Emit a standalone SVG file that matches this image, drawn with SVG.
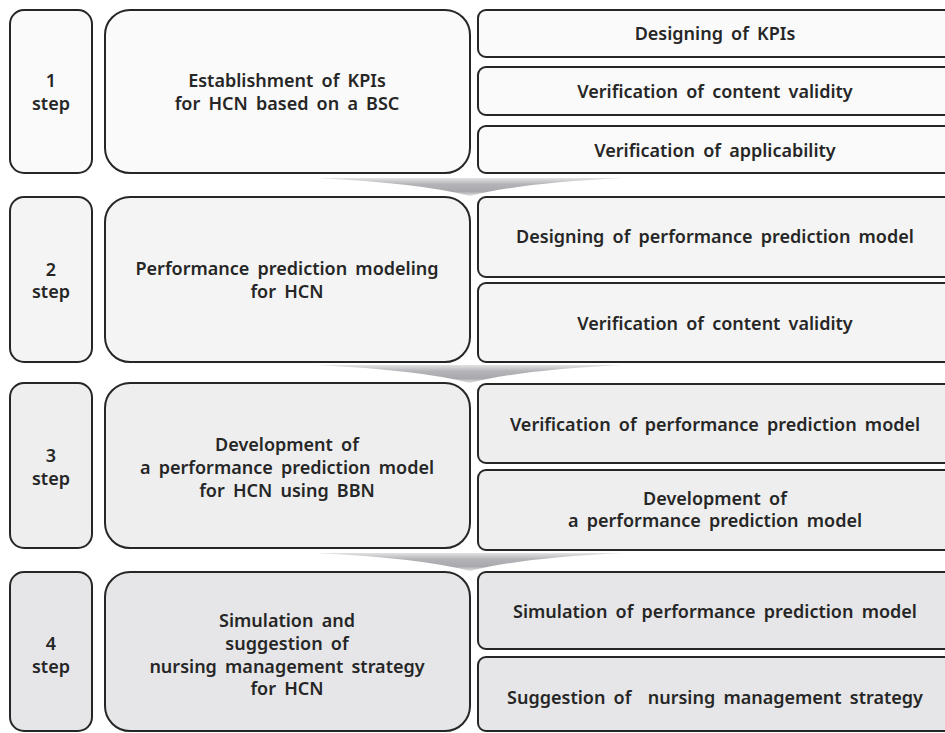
<svg xmlns="http://www.w3.org/2000/svg" width="945" height="733" viewBox="0 0 945 733">
<defs>
<linearGradient id="ag" x1="0" y1="0" x2="0" y2="1">
<stop offset="0" stop-color="#e2e2e4"/>
<stop offset="0.35" stop-color="#b4b4b8"/>
<stop offset="0.75" stop-color="#a9a9ad"/>
<stop offset="1" stop-color="#e6e6e8"/>
</linearGradient>
<style>
.b{stroke:#262626;stroke-width:2}
.r1{fill:#fafafa}.r2{fill:#f4f4f4}.r3{fill:#eeeeef}.r4{fill:#e6e6e8}
text{font-family:"Noto Sans","Open Sans","Liberation Sans",sans-serif;font-size:18px;font-weight:600;fill:#262626;text-anchor:middle;white-space:pre;word-spacing:3.5px}
.ar{fill:url(#ag)}
</style>
</defs>
<rect width="945" height="733" fill="#ffffff"/>
<g id="connectors">
<path class="ar" d="M317,178 L622,178 Q520,183 470,196 Q420,183 317,178 Z"/>
<path class="ar" d="M317,365 L622,365 Q520,370 470,383 Q420,370 317,365 Z"/>
<path class="ar" d="M317,553 L622,553 Q520,558 470,571 Q420,558 317,553 Z"/>
</g>
<g id="step1">
<rect class="b r1" x="10" y="10" width="82" height="163" rx="14"/>
<text x="51" y="87">1</text><text x="51" y="110">step</text>
</g>
<g id="main1">
<rect class="b r1" x="105" y="10" width="365" height="163" rx="25"/>
<text x="287" y="87">Establishment of KPIs</text><text x="287" y="110">for HCN based on a BSC</text>
</g>
<g id="sub1a"><rect class="b r1" x="478" y="10" width="474" height="47" rx="8"/><text x="715" y="40">Designing of KPIs</text></g>
<g id="sub1b"><rect class="b r1" x="478" y="67" width="474" height="48" rx="8"/><text x="715" y="98">Verification of content validity</text></g>
<g id="sub1c"><rect class="b r1" x="478" y="126" width="474" height="47" rx="8"/><text x="715" y="157">Verification of applicability</text></g>

<g id="step2">
<rect class="b r2" x="10" y="197" width="82" height="165" rx="14"/>
<text x="51" y="276">2</text><text x="51" y="298">step</text>
</g>
<g id="main2">
<rect class="b r2" x="105" y="197" width="365" height="165" rx="25"/>
<text x="287" y="275">Performance prediction modeling</text><text x="287" y="298">for HCN</text>
</g>
<g id="sub2a"><rect class="b r2" x="478" y="197" width="474" height="80" rx="8"/><text x="715" y="243">Designing of performance prediction model</text></g>
<g id="sub2b"><rect class="b r2" x="478" y="283" width="474" height="79" rx="8"/><text x="715" y="330">Verification of content validity</text></g>

<g id="step3">
<rect class="b r3" x="10" y="383" width="82" height="165" rx="14"/>
<text x="51" y="462">3</text><text x="51" y="485">step</text>
</g>
<g id="main3">
<rect class="b r3" x="105" y="383" width="365" height="165" rx="25"/>
<text x="287" y="451">Development of</text><text x="287" y="474">a performance prediction model</text><text x="287" y="497">for HCN using BBN</text>
</g>
<g id="sub3a"><rect class="b r3" x="478" y="384" width="474" height="79" rx="8"/><text x="715" y="431">Verification of performance prediction model</text></g>
<g id="sub3b"><rect class="b r3" x="478" y="470" width="474" height="80" rx="8"/><text x="715" y="505">Development of</text><text x="715" y="527">a performance prediction model</text></g>

<g id="step4">
<rect class="b r4" x="10" y="572" width="82" height="159" rx="14"/>
<text x="51" y="650">4</text><text x="51" y="673">step</text>
</g>
<g id="main4">
<rect class="b r4" x="105" y="572" width="365" height="159" rx="25"/>
<text x="287" y="627">Simulation and</text><text x="287" y="650">suggestion of</text><text x="287" y="673">nursing management strategy</text><text x="287" y="695">for HCN</text>
</g>
<g id="sub4a"><rect class="b r4" x="478" y="572" width="474" height="77" rx="8"/><text x="715" y="618">Simulation of performance prediction model</text></g>
<g id="sub4b"><rect class="b r4" x="478" y="657" width="474" height="74" rx="8"/><text x="715" y="704">Suggestion of  nursing management strategy</text></g>
</svg>
